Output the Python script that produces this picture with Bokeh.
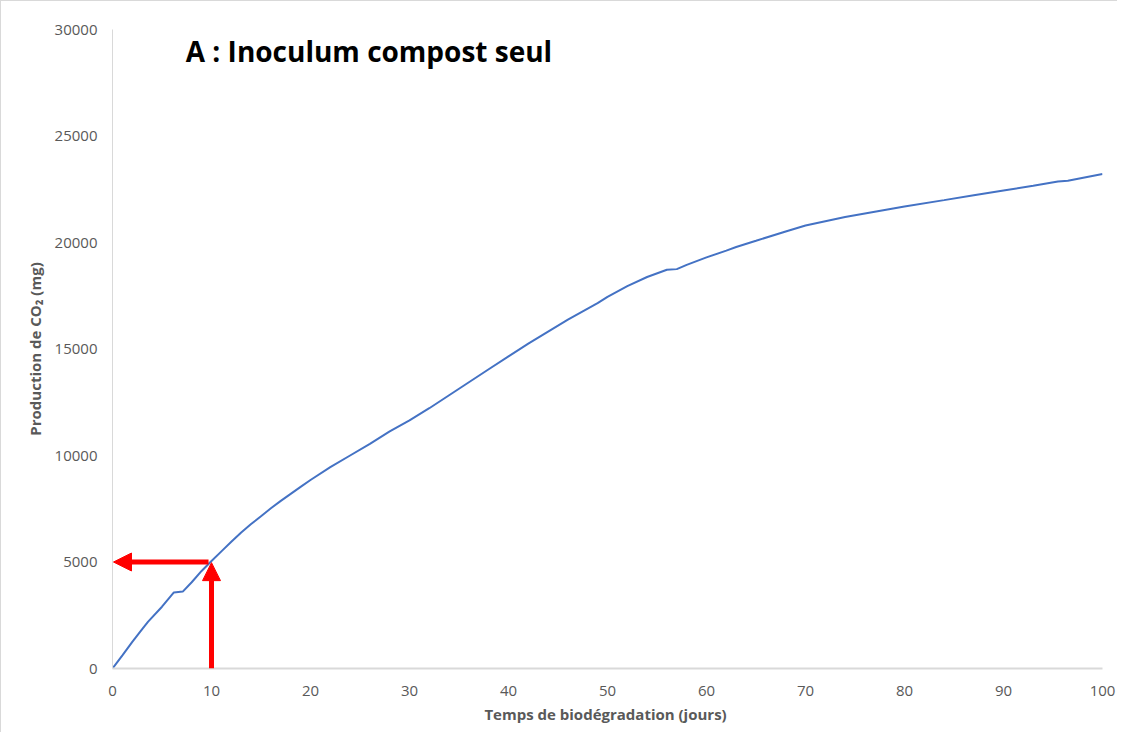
from bokeh.plotting import figure
from bokeh.models import Range1d, FixedTicker, Label, Arrow, NormalHead
from bokeh.embed import file_html
from bokeh.resources import INLINE

# Data
jours = [0, 1, 2, 3, 3.6, 5, 6.2, 7.1, 8, 9, 10, 11, 12, 13, 14, 15, 16, 17, 18, 19,
         20, 22, 24, 26, 28, 30, 32, 34, 36, 38, 40, 42, 44, 46, 48, 49, 50, 52, 54,
         56, 57, 58, 60, 62, 63, 65, 68, 70, 74, 78, 80, 84, 87, 90, 93, 95.5, 96.5, 100]
co2_mg = [0, 620, 1250, 1850, 2200, 2900, 3570, 3610, 4050, 4580, 5050, 5500, 5950,
          6380, 6780, 7150, 7520, 7870, 8200, 8530, 8850, 9450, 10000, 10550, 11130,
          11650, 12220, 12830, 13440, 14050, 14650, 15250, 15820, 16380, 16900, 17150,
          17450, 17950, 18380, 18720, 18750, 18950, 19300, 19620, 19790, 20080, 20520,
          20800, 21200, 21530, 21690, 21990, 22220, 22440, 22660, 22860, 22900, 23220]

x_ticks = [0, 10, 20, 30, 40, 50, 60, 70, 80, 90, 100]
y_ticks = [0, 5000, 10000, 15000, 20000, 25000, 30000]

# reading arrows: time 10 days -> 5000 mg
arrow_jour = [10]
arrow_co2 = [5000]

title_text = "A : Inoculum compost seul"

FONT = "Open Sans"
GREY = "#595959"

p = figure(width=1117, height=732, output_backend="svg", toolbar_location=None,
           x_range=Range1d(0, 100), y_range=Range1d(0, 30000),
           min_border_left=111, min_border_right=16, min_border_top=28, min_border_bottom=65)
p.styles = {"border-top": "1px solid #d9d9d9", "border-left": "1px solid #d9d9d9"}
p.outline_line_color = None
p.xgrid.grid_line_color = None
p.ygrid.grid_line_color = None
p.background_fill_color = "white"
p.border_fill_color = "white"

p.line(jours, co2_mg, line_color="#4472C4", line_width=2)

# arrows
ah = Arrow(end=NormalHead(size=18, fill_color="#FF0000", line_color="#FF0000"),
           x_start=arrow_jour[0] - 0.3, y_start=arrow_co2[0], x_end=0.1, y_end=arrow_co2[0],
           line_color="#FF0000", line_width=5)
av = Arrow(end=NormalHead(size=18, fill_color="#FF0000", line_color="#FF0000"),
           x_start=arrow_jour[0], y_start=0, x_end=arrow_jour[0], y_end=arrow_co2[0] - 30,
           line_color="#FF0000", line_width=5)
p.add_layout(ah)
p.add_layout(av)

title = Label(x=7.4, y=28970, text=title_text, text_font=FONT, text_font_size="28px",
              text_font_style="bold", text_color="black", text_baseline="middle")
p.add_layout(title)

for ax in (p.xaxis[0], p.yaxis[0]):
    ax.major_tick_line_color = None
    ax.minor_tick_line_color = None
    ax.major_label_text_font = FONT
    ax.major_label_text_font_size = "15px"
    ax.major_label_text_color = GREY
    ax.axis_label_text_font = FONT
    ax.axis_label_text_font_size = "15px"
    ax.axis_label_text_color = GREY
    ax.axis_label_text_font_style = "bold"
    ax.axis_line_color = "#d9d9d9"

p.xaxis.ticker = FixedTicker(ticks=x_ticks)
p.yaxis.ticker = FixedTicker(ticks=y_ticks)
p.xaxis.axis_line_width = 2
p.yaxis.axis_line_width = 1
p.xaxis.major_label_standoff = 11
p.yaxis.major_label_standoff = 9
p.xaxis.axis_label = "Temps de biodégradation  (jours)"
p.yaxis.axis_label = "Production de CO\u2082 (mg)"
p.xaxis.axis_label_standoff = 5
p.yaxis.axis_label_standoff = 7

open("out.html", "w").write(file_html(p, INLINE))
